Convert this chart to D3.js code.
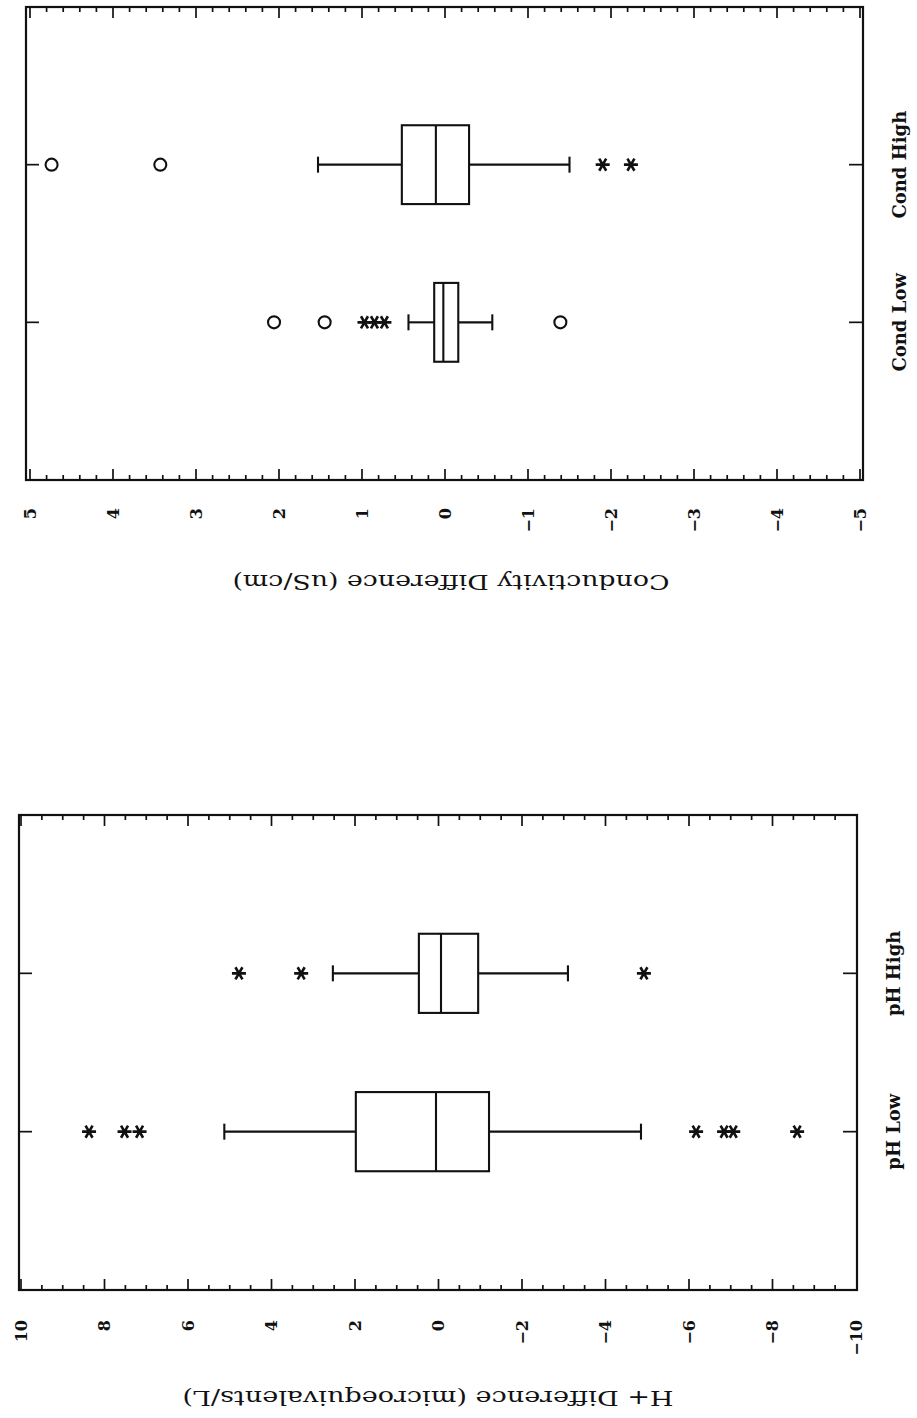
<!DOCTYPE html>
<html>
<head>
<meta charset="utf-8">
<script src="https://cdn.jsdelivr.net/npm/d3@7"></script>
<style>
  html, body { margin: 0; padding: 0; background: #fff; }
  svg { display: block; }
</style>
</head>
<body>
<svg id="chart" width="917" height="1418"></svg>
<script>
// ---------------- DATA ----------------
// Conductivity panel (uS/cm)
const condCategories = ["Cond High", "Cond Low"];
const condWhiskerHigh = [1.53, 0.44];
const condQ3 = [0.52, 0.13];
const condMedian = [0.11, 0.02];
const condQ1 = [-0.29, -0.16];
const condWhiskerLow = [-1.50, -0.57];
const condCircleOutliers = [[4.74, 3.43], [2.06, 1.45, -1.39]];
const condStarOutliers = [[-1.90, -2.24], [0.97, 0.85, 0.73]];
const condTickValues = [5, 4, 3, 2, 1, 0, -1, -2, -3, -4, -5];
const condTickLabels = ["5", "4", "3", "2", "1", "0", "−1", "−2", "−3", "−4", "−5"];
const condTitle = "Conductivity Difference (uS/cm)";

// H+ panel (microequivalents/L)
const phCategories = ["pH High", "pH Low"];
const phWhiskerHigh = [2.53, 5.13];
const phQ3 = [0.47, 1.98];
const phMedian = [-0.06, 0.06];
const phQ1 = [-0.95, -1.21];
const phWhiskerLow = [-3.10, -4.85];
const phCircleOutliers = [[], []];
const phStarOutliers = [[4.78, 3.29, -4.92], [8.37, 7.52, 7.16, -6.17, -6.84, -7.06, -8.59]];
const phTickValues = [10, 8, 6, 4, 2, 0, -2, -4, -6, -8, -10];
const phTickLabels = ["10", "8", "6", "4", "2", "0", "−2", "−4", "−6", "−8", "−10"];
const phTitle = "H+ Difference (microequivalents/L)";

// ---------------- DRAWING ----------------
const svg = d3.select("#chart");
const INK = "#111";

function asteriskPath(r) {
  let p = "";
  for (let k = 0; k < 3; k++) {
    const a = k * Math.PI / 3;
    const dx = r * Math.cos(a), dy = r * Math.sin(a);
    p += `M${-dx},${-dy}L${dx},${dy}`;
  }
  return p;
}

function drawPanel(cfg) {
  const g = svg.append("g");
  const { x0, x1, y0, y1 } = cfg.frame;

  const x = d3.scaleLinear().domain(cfg.domain).range(cfg.range);
  const y = d3.scalePoint().domain(cfg.categories).range([y0, y1]).padding(1);
  const boxH = y.step() * 0.5;
  const capH = 16;

  // frame
  g.append("rect")
    .attr("x", x0).attr("y", y0)
    .attr("width", x1 - x0).attr("height", y1 - y0)
    .attr("fill", "none").attr("stroke", INK).attr("stroke-width", 2.2);

  // minor + major ticks on top (pointing down) and bottom (pointing up)
  const minor = x.ticks(cfg.minorCount);
  const major = cfg.tickValues;
  const tickG = g.append("g").attr("stroke", INK).attr("stroke-width", 1.7);
  minor.forEach(v => {
    const isMajor = major.some(m => Math.abs(m - v) < 1e-9);
    const len = isMajor ? 11 : 5;
    const xv = x(v);
    if (xv <= x0 + 1 || xv >= x1 - 1) return;
    tickG.append("line").attr("x1", xv).attr("x2", xv).attr("y1", y0).attr("y2", y0 + len);
    tickG.append("line").attr("x1", xv).attr("x2", xv).attr("y1", y1).attr("y2", y1 - len);
  });

  // category ticks on left and right edges
  cfg.categories.forEach(c => {
    tickG.append("line").attr("x1", x0).attr("x2", x0 + 13).attr("y1", y(c)).attr("y2", y(c));
    tickG.append("line").attr("x1", x1).attr("x2", x1 - 14).attr("y1", y(c)).attr("y2", y(c));
  });

  // tick labels (rotated, reading bottom to top)
  g.append("g").selectAll("text")
    .data(major)
    .join("text")
    .attr("transform", (v) => `translate(${x(v)},${y1 + cfg.labelDy}) rotate(-90)`)
    .attr("text-anchor", "end")
    .attr("dominant-baseline", "central")
    .attr("font-family", "'DejaVu Serif', serif")
    .attr("font-weight", "bold")
    .attr("font-size", 16)
    .attr("fill", INK)
    .text((v, i) => cfg.tickLabels[i]);

  // axis title (upside down)
  g.append("text")
    .attr("transform", `translate(${cfg.titleX},${y1 + cfg.titleDy}) rotate(180)`)
    .attr("text-anchor", "middle")
    .attr("dominant-baseline", "central")
    .attr("font-family", "'DejaVu Serif', serif")
    .attr("font-size", 20)
    .attr("textLength", cfg.titleLen)
    .attr("lengthAdjust", "spacingAndGlyphs")
    .attr("fill", INK)
    .text(cfg.title);

  // category labels on the right (rotated)
  g.append("g").selectAll("text")
    .data(cfg.categories)
    .join("text")
    .attr("transform", c => `translate(${x1 + 36},${y(c)}) rotate(-90)`)
    .attr("text-anchor", "middle")
    .attr("dominant-baseline", "central")
    .attr("font-family", "'DejaVu Serif', serif")
    .attr("font-weight", "bold")
    .attr("font-size", 18)
    .attr("fill", INK)
    .text(c => c);

  // boxes
  const bg = g.append("g").attr("stroke", INK).attr("stroke-width", 2.1).attr("fill", "none");
  cfg.categories.forEach((c, i) => {
    const cy = y(c);
    const xa = x(cfg.q3[i]), xb = x(cfg.q1[i]);
    bg.append("rect")
      .attr("x", Math.min(xa, xb)).attr("y", cy - boxH / 2)
      .attr("width", Math.abs(xb - xa)).attr("height", boxH);
    bg.append("line")
      .attr("x1", x(cfg.median[i])).attr("x2", x(cfg.median[i]))
      .attr("y1", cy - boxH / 2).attr("y2", cy + boxH / 2);
    // whiskers
    bg.append("line").attr("x1", x(cfg.whHi[i])).attr("x2", xa).attr("y1", cy).attr("y2", cy);
    bg.append("line").attr("x1", xb).attr("x2", x(cfg.whLo[i])).attr("y1", cy).attr("y2", cy);
    bg.append("line").attr("x1", x(cfg.whHi[i])).attr("x2", x(cfg.whHi[i]))
      .attr("y1", cy - capH / 2).attr("y2", cy + capH / 2);
    bg.append("line").attr("x1", x(cfg.whLo[i])).attr("x2", x(cfg.whLo[i]))
      .attr("y1", cy - capH / 2).attr("y2", cy + capH / 2);
    // outliers
    cfg.circles[i].forEach(v => {
      bg.append("circle").attr("cx", x(v)).attr("cy", cy).attr("r", 6);
    });
    cfg.stars[i].forEach(v => {
      bg.append("path")
        .attr("transform", `translate(${x(v)},${cy})`)
        .attr("d", asteriskPath(7))
        .attr("stroke-width", 2.6);
    });
  });
}

drawPanel({
  categories: condCategories,
  whHi: condWhiskerHigh, q3: condQ3, median: condMedian, q1: condQ1, whLo: condWhiskerLow,
  circles: condCircleOutliers, stars: condStarOutliers,
  tickValues: condTickValues, tickLabels: condTickLabels,
  minorCount: 50,
  domain: [5, -5], range: [30, 860],
  frame: { x0: 26, x1: 863, y0: 7, y1: 480 },
  labelDy: 28,
  title: condTitle, titleX: 451, titleDy: 102, titleLen: 437
});

drawPanel({
  categories: phCategories,
  whHi: phWhiskerHigh, q3: phQ3, median: phMedian, q1: phQ1, whLo: phWhiskerLow,
  circles: phCircleOutliers, stars: phStarOutliers,
  tickValues: phTickValues, tickLabels: phTickLabels,
  minorCount: 40,
  domain: [10, -10], range: [21, 856],
  frame: { x0: 19, x1: 857, y0: 815, y1: 1290 },
  labelDy: 30,
  title: phTitle, titleX: 428, titleDy: 108, titleLen: 491
});
</script>
</body>
</html>
